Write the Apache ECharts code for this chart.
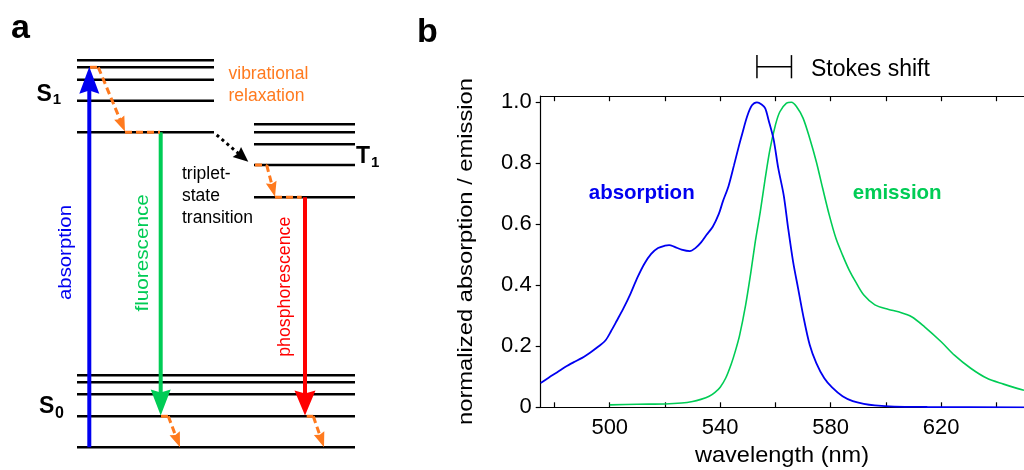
<!DOCTYPE html>
<html>
<head>
<meta charset="utf-8">
<script src="https://cdn.jsdelivr.net/npm/echarts@6/dist/echarts.min.js"></script>
<style>html,body{margin:0;padding:0;background:#fff}#c{width:1024px;height:470px}</style>
</head>
<body>
<div id="c"></div>
<script>
// ---------- panel b data ----------
const ABS_NM  = [475,478,481,484,487,490,493,496,498.5,500.5,502.5,505,507.5,510,512.5,515,517.5,520,521.5,523.5,526,529,531,533,535,537.3,539.5,541,543,545,546.8,548,549.8,551.5,553.3,555,556.3,557.5,559.3,561,563,564.6,566.4,568.2,570,572.4,574.8,577.7,580.5,584.3,588,592,596,603,615,650];
const ABS_VAL = [0.080,0.098,0.115,0.133,0.148,0.162,0.180,0.200,0.220,0.250,0.283,0.325,0.372,0.425,0.470,0.503,0.522,0.530,0.532,0.526,0.517,0.512,0.522,0.540,0.565,0.592,0.634,0.676,0.725,0.794,0.858,0.898,0.955,0.990,1.000,0.993,0.980,0.942,0.880,0.785,0.695,0.587,0.477,0.390,0.303,0.205,0.145,0.095,0.065,0.036,0.020,0.011,0.006,0.002,0.001,0.0];
const EM_NM   = [500,510,520,526,530,533,536,538,540,542,544,545.5,547,549.2,551,552.7,554.5,556.3,558,560,561.6,564,565.8,567.6,570,572.4,574.8,577.1,579.5,581.9,584.3,586.7,589,592,596,601,604.5,609.3,614,620,624.8,630.7,636.6,642.6,647.5,650];
const EM_VAL  = [0.008,0.010,0.011,0.014,0.019,0.026,0.036,0.048,0.066,0.096,0.142,0.185,0.235,0.335,0.437,0.543,0.641,0.751,0.845,0.926,0.969,0.997,1.000,0.986,0.948,0.882,0.805,0.718,0.630,0.554,0.499,0.450,0.412,0.368,0.336,0.321,0.313,0.297,0.264,0.215,0.171,0.128,0.095,0.076,0.062,0.056];
const X_TICKS  = [480,500,520,540,560,580,600,620,640];
const X_LABELS = [500,540,580,620];
const Y_TICKS  = [0,0.2,0.4,0.6,0.8,1.0];

// ---------- panel a (Jablonski diagram) data, diagram units ----------
const S1_LEVELS = [60.3,67.3,79.7,100.7,132.3];
const T1_LEVELS = [124.3,132.3,144.3,165,197.3];
const S0_LEVELS = [375.3,382.3,394.3,416.3,447.3];
const S1_SPAN = [77,214], T1_SPAN = [254,355], S0_SPAN = [77,355];
// [x1,y1,x2(tip),y2(tip),headWidth,headLength]
const ABSORB_ARROW = [[89.3,447.3,89.3,66.7,20,27]];
const FLUOR_ARROW  = [[160.7,132.3,160.7,415.5,20,26]];
const PHOS_ARROW   = [[305,197.3,305,415.5,21,25]];
const RELAX_PATHS  = [
  [90,67.3,98.3,67.3,0,0],[98.3,67.3,125,131.5,11,15],[125,132.3,160,132.3,0,0],
  [255,165,266.7,165,0,0],[266.7,165,275,196.7,11,15],[275,197.3,301.7,197.3,0,0],
  [161,416.3,168.3,416.3,0,0],[168.3,416.3,180,447.3,11,15],
  [306.7,416.3,313.3,416.3,0,0],[313.3,416.3,324,447.3,11,15]
];
const ISC_ARROW = [[216.7,135,248.3,161.7,13,15]];

const FONT = '"Liberation Sans", Arial, Helvetica, sans-serif';
const BLUE = '#0000f0', GREEN = '#00cc55', RED = '#ff0000', ORANGE = '#ff7a1e';

function argmaxX(xs, ys){ let k=0; ys.forEach((v,i)=>{ if(v>ys[k]) k=i; }); return xs[k]; }
const STOKES = [argmaxX(ABS_NM,ABS_VAL), argmaxX(EM_NM,EM_VAL)];

const levels = [];
S1_LEVELS.forEach(y=>levels.push([S1_SPAN[0],S1_SPAN[1],y]));
T1_LEVELS.forEach(y=>levels.push([T1_SPAN[0],T1_SPAN[1],y]));
S0_LEVELS.forEach(y=>levels.push([S0_SPAN[0],S0_SPAN[1],y]));

function arrowSeries(data, color, width, dash){
  return {
    type:'custom', xAxisIndex:2, yAxisIndex:1, clip:false, z:5, silent:true,
    data: data,
    renderItem: function(params, api){
      const p1 = api.coord([api.value(0), api.value(1)]);
      const p2 = api.coord([api.value(2), api.value(3)]);
      const hw = api.value(4), hl = api.value(5);
      const children = [];
      let end = p2;
      if (hl > 0){
        const dx=p2[0]-p1[0], dy=p2[1]-p1[1], L=Math.hypot(dx,dy);
        const ux=dx/L, uy=dy/L, nx=-uy, ny=ux;
        const bx=p2[0]-ux*hl, by=p2[1]-uy*hl;
        const notch = hl*0.12;
        end = [p2[0]-ux*hl*0.75, p2[1]-uy*hl*0.75];
        children.push({type:'polygon', shape:{points:[p2,[bx+nx*hw/2,by+ny*hw/2],[bx+ux*notch,by+uy*notch],[bx-nx*hw/2,by-ny*hw/2]]}, style:{fill:color}});
      }
      children.unshift({type:'line', shape:{x1:p1[0],y1:p1[1],x2:end[0],y2:end[1]}, style:{stroke:color,lineWidth:width,lineDash:dash||null}});
      return {type:'group', children:children};
    }
  };
}

function txt(text, x, y, opts){
  opts = opts || {};
  return {
    type:'text', x:x, y:y, rotation: opts.rot||0, scaleX: opts.sx||1, scaleY: opts.sy||1, silent:true, z:10,
    style:{ text:text, fill: opts.color||'#000',
      font: (opts.bold?'bold ':'') + (opts.size||18) + 'px ' + FONT,
      align: opts.align||'left', textAlign: opts.align||'left',
      verticalAlign:'middle', textVerticalAlign:'middle' }
  };
}

const chart = echarts.init(document.getElementById('c'), null, {renderer:'canvas'});
const axisLineStyle = {color:'#000', width:1.2};
chart.setOption({
  animation:false,
  backgroundColor:'#fff',
  grid:[
    {left:540.7, top:96.2, width:490, height:311.1, containLabel:false},
    {left:0, top:0, width:400, height:470, containLabel:false}
  ],
  xAxis:[
    {type:'value', gridIndex:0, position:'bottom', min:475, max:650,
     axisLine:{show:true, lineStyle:axisLineStyle},
     axisTick:{show:true, inside:true, length:5, customValues:X_TICKS, lineStyle:axisLineStyle},
     axisLabel:{show:true, customValues:X_LABELS, color:'#000', fontSize:22, fontFamily:FONT, margin:10},
     splitLine:{show:false}},
    {type:'value', gridIndex:0, position:'top', min:475, max:650,
     axisLine:{show:true, lineStyle:axisLineStyle},
     axisTick:{show:true, inside:true, length:5, customValues:X_TICKS, lineStyle:axisLineStyle},
     axisLabel:{show:false}, splitLine:{show:false}},
    {type:'value', gridIndex:1, min:0, max:400, show:false}
  ],
  yAxis:[
    {type:'value', gridIndex:0, min:0, max:1.02,
     axisLine:{show:true, lineStyle:axisLineStyle},
     axisTick:{show:true, inside:false, length:5, customValues:Y_TICKS, lineStyle:axisLineStyle},
     axisLabel:{show:true, customValues:Y_TICKS, color:'#000', fontSize:22, fontFamily:FONT, margin:9,
       formatter:function(v){ return v===0 ? '0' : v.toFixed(1); }},
     splitLine:{show:false}},
    {type:'value', gridIndex:1, min:0, max:470, inverse:true, show:false}
  ],
  series:[
    {type:'line', name:'absorption', xAxisIndex:0, yAxisIndex:0, showSymbol:false, symbol:'none', smooth:0.3,
     data: ABS_NM.map((x,i)=>[x,ABS_VAL[i]]), lineStyle:{color:BLUE, width:1.8}, z:3},
    {type:'line', name:'emission', xAxisIndex:0, yAxisIndex:0, showSymbol:false, symbol:'none', smooth:0.3,
     data: EM_NM.map((x,i)=>[x,EM_VAL[i]]), lineStyle:{color:GREEN, width:1.6}, z:2},
    {type:'custom', xAxisIndex:0, yAxisIndex:0, clip:false, silent:true,
     data:[[STOKES[0], STOKES[1]]],
     renderItem:function(params, api){
       const a = api.coord([api.value(0), 1.1167]);
       const b = api.coord([api.value(1), 1.1167]);
       const h = 11.6, st = {stroke:'#000', lineWidth:1.5};
       return {type:'group', children:[
         {type:'line', shape:{x1:a[0],y1:a[1],x2:b[0],y2:b[1]}, style:st},
         {type:'line', shape:{x1:a[0],y1:a[1]-h,x2:a[0],y2:a[1]+h}, style:st},
         {type:'line', shape:{x1:b[0],y1:b[1]-h,x2:b[0],y2:b[1]+h}, style:st}
       ]};
     }},
    {type:'custom', xAxisIndex:2, yAxisIndex:1, clip:false, silent:true, z:2,
     data: levels,
     renderItem:function(params, api){
       const a = api.coord([api.value(0), api.value(2)]);
       const b = api.coord([api.value(1), api.value(2)]);
       return {type:'line', shape:{x1:a[0],y1:a[1],x2:b[0],y2:b[1]}, style:{stroke:'#000', lineWidth:2.5}};
     }},
    arrowSeries(ABSORB_ARROW, BLUE, 4),
    arrowSeries(FLUOR_ARROW, GREEN, 4),
    arrowSeries(PHOS_ARROW, RED, 4),
    arrowSeries(RELAX_PATHS, ORANGE, 3, [7,4]),
    arrowSeries(ISC_ARROW, '#000', 3, [3,3.5])
  ],
  graphic:{elements:[
    txt('a', 11, 28.3, {bold:true, size:34}),
    txt('b', 417, 32.5, {bold:true, size:34}),
    txt('S', 36.5, 94.5, {bold:true, size:23}),
    txt('1', 52.8, 100.3, {bold:true, size:15}),
    txt('T', 356, 157, {bold:true, size:23}),
    txt('1', 371, 163, {bold:true, size:15}),
    txt('S', 39, 406.2, {bold:true, size:23}),
    txt('0', 55, 413.3, {bold:true, size:16}),
    txt('vibrational', 228.5, 74.6, {size:17.5, color:ORANGE}),
    txt('relaxation', 228.5, 96.6, {size:17.5, color:ORANGE}),
    txt('triplet-', 182, 174.6, {size:17.5}),
    txt('state', 182, 196.3, {size:17.5}),
    txt('transition', 182, 217.9, {size:17.5}),
    txt('absorption', 66, 252.5, {size:18, color:BLUE, align:'center', rot:Math.PI/2, sx:1.13}),
    txt('fluorescence', 142.6, 252.9, {size:18, color:GREEN, align:'center', rot:Math.PI/2, sx:1.15}),
    txt('phosphorescence', 284.8, 286.7, {size:17.5, color:RED, align:'center', rot:Math.PI/2, sx:1.014}),
    txt('absorption', 641.7, 193, {bold:true, size:20.5, color:BLUE, align:'center'}),
    txt('emission', 897.2, 193.6, {bold:true, size:20.5, color:GREEN, align:'center'}),
    txt('Stokes shift', 811, 69.4, {size:23}),
    txt('normalized absorption / emission', 466.4, 251.5, {size:20, align:'center', rot:Math.PI/2, sx:1.187}),
    txt('wavelength (nm)', 782, 456.4, {size:22, align:'center', sx:1.07})
  ]}
});
</script>
</body>
</html>
